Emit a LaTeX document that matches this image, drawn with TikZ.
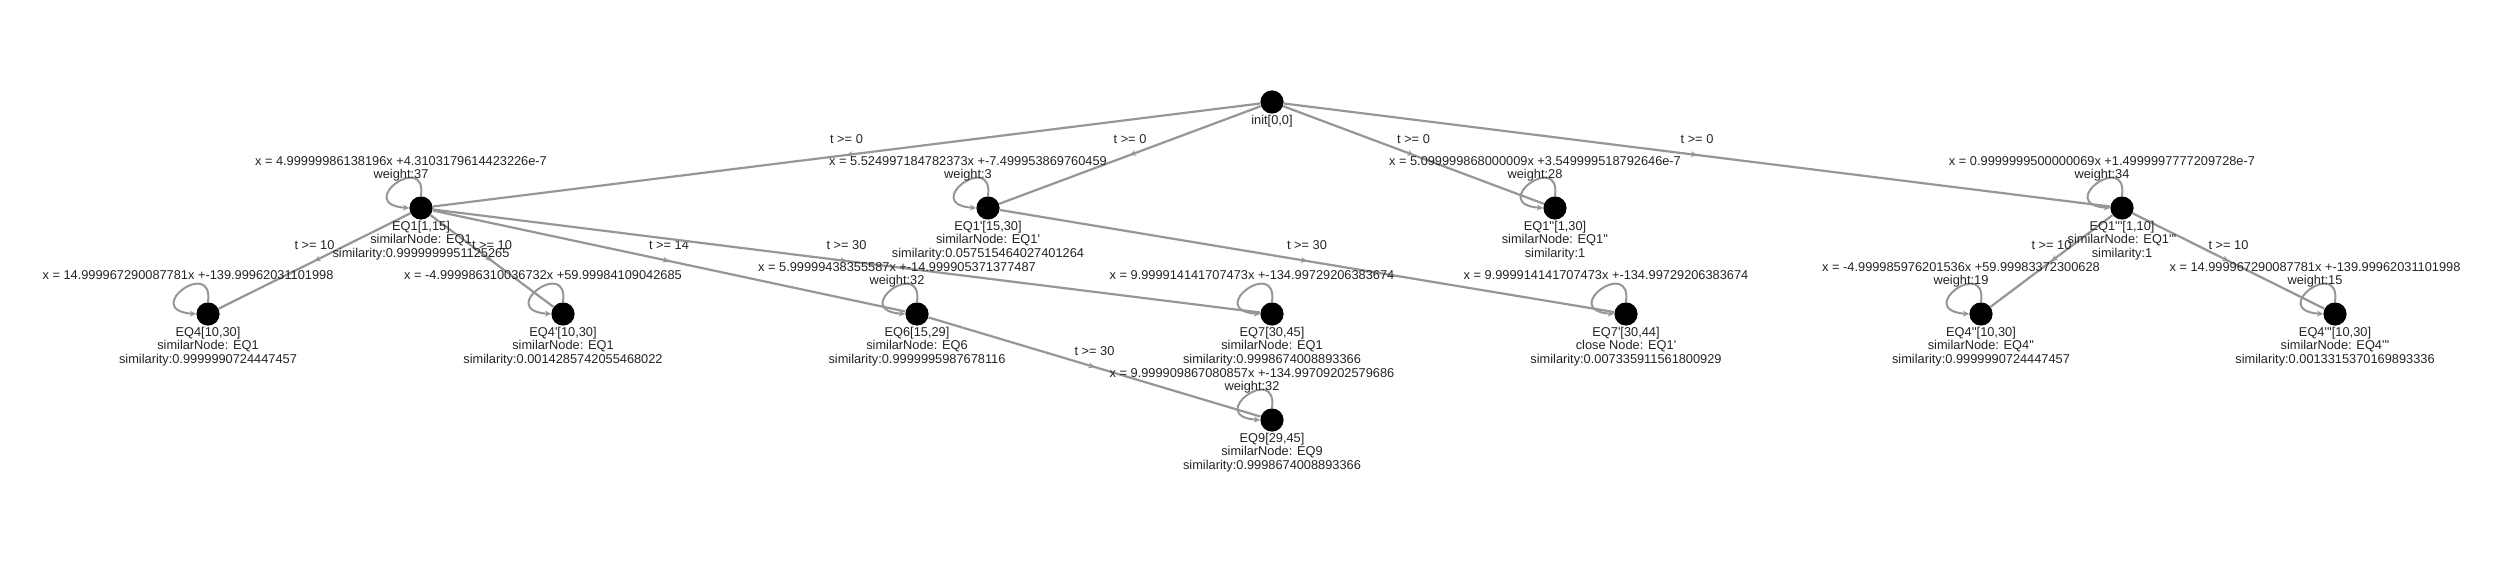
\documentclass[tikz,border=0pt]{standalone}
\usepackage{fontspec}
\setmainfont{Liberation Sans}
\usetikzlibrary{arrows.meta, decorations.markings, calc}

\definecolor{linegray}{RGB}{150,150,150}
\definecolor{txtgray}{RGB}{35,35,35}
\newcommand{\apos}{\textquotesingle}

\begin{document}
\begin{tikzpicture}[x=0.5pt, y=-0.5pt, font=\fontsize{6.4}{6.65}\selectfont,
    state/.style={circle, fill=black, inner sep=0pt, minimum size=11.6pt},
    info/.style={anchor=north, align=center, inner sep=0pt, text=txtgray},
    eqlbl/.style={align=center, inner sep=0pt, text=txtgray},
    trans/.style={draw=linegray, line width=1.1pt, postaction={decorate, decoration={markings,
        mark=at position 0.5 with {\arrow[linegray]{Stealth[length=3pt, width=3pt]}}}}},
    guard/.style={midway, yshift=8pt, inner sep=0pt, text=txtgray},
    selfloop/.style={draw=linegray, line width=1pt, -{Stealth[length=3pt, width=3pt]}}]
    \useasboundingbox (0,0) rectangle (2500,562);
    % 状态
    \node[state] (init) at (1272,102) {};
    \node[state] (eq1) at (421,208) {};
    \node[state] (eq1p) at (988,208) {};
    \node[state] (eq1pp) at (1555,208) {};
    \node[state] (eq1ppp) at (2122,208) {};
    \node[state] (eq4) at (208,314) {};
    \node[state] (eq4p) at (563,314) {};
    \node[state] (eq6) at (917,314) {};
    \node[state] (eq7) at (1272,314) {};
    \node[state] (eq7p) at (1626,314) {};
    \node[state] (eq4pp) at (1981,314) {};
    \node[state] (eq4ppp) at (2335,314) {};
    \node[state] (eq9) at (1272,420) {};
    % 转移
    \draw[trans] (init) -- node[guard] {t >= 0} (eq1);
    \draw[trans] (init) -- node[guard] {t >= 0} (eq1p);
    \draw[trans] (init) -- node[guard] {t >= 0} (eq1pp);
    \draw[trans] (init) -- node[guard] {t >= 0} (eq1ppp);
    \draw[trans] (eq1) -- node[guard] {t >= 10} (eq4);
    \draw[trans] (eq1) -- node[guard] {t >= 10} (eq4p);
    \draw[trans] (eq1) -- node[guard] {t >= 14} (eq6);
    \draw[trans] (eq1) -- node[guard] {t >= 30} (eq7);
    \draw[trans] (eq1p) -- node[guard] {t >= 30} (eq7p);
    \draw[trans] (eq6) -- node[guard] {t >= 30} (eq9);
    \draw[trans] (eq1ppp) -- node[guard] {t >= 10} (eq4pp);
    \draw[trans] (eq1ppp) -- node[guard] {t >= 10} (eq4ppp);
    % 自环
    \draw[selfloop] (eq1.north) .. controls +(6,-46) and +(-56,-4) .. (eq1.west);
    \draw[selfloop] (eq1p.north) .. controls +(6,-46) and +(-56,-4) .. (eq1p.west);
    \draw[selfloop] (eq1pp.north) .. controls +(6,-46) and +(-56,-4) .. (eq1pp.west);
    \draw[selfloop] (eq1ppp.north) .. controls +(6,-46) and +(-56,-4) .. (eq1ppp.west);
    \draw[selfloop] (eq4.north) .. controls +(6,-46) and +(-56,-4) .. (eq4.west);
    \draw[selfloop] (eq4p.north) .. controls +(6,-46) and +(-56,-4) .. (eq4p.west);
    \draw[selfloop] (eq6.north) .. controls +(6,-46) and +(-56,-4) .. (eq6.west);
    \draw[selfloop] (eq7.north) .. controls +(6,-46) and +(-56,-4) .. (eq7.west);
    \draw[selfloop] (eq7p.north) .. controls +(6,-46) and +(-56,-4) .. (eq7p.west);
    \draw[selfloop] (eq4pp.north) .. controls +(6,-46) and +(-56,-4) .. (eq4pp.west);
    \draw[selfloop] (eq4ppp.north) .. controls +(6,-46) and +(-56,-4) .. (eq4ppp.west);
    \draw[selfloop] (eq9.north) .. controls +(6,-46) and +(-56,-4) .. (eq9.west);
    % 自环方程
    \node[eqlbl] (eq1eq) at ($(eq1)+(-20,-39)$) {x = 4.99999986138196x +4.3103179614423226e-7\\weight:37};
    \node[eqlbl] (eq1peq) at ($(eq1p)+(-20,-39)$) {x = 5.524997184782373x +-7.499953869760459\\weight:3};
    \node[eqlbl] (eq1ppeq) at ($(eq1pp)+(-20,-39)$) {x = 5.099999868000009x +3.549999518792646e-7\\weight:28};
    \node[eqlbl] (eq1pppeq) at ($(eq1ppp)+(-20,-39)$) {x = 0.9999999500000069x +1.4999997777209728e-7\\weight:34};
    \node[eqlbl] (eq4eq) at ($(eq4)+(-20,-39)$) {x = 14.999967290087781x +-139.99962031101998};
    \node[eqlbl] (eq4peq) at ($(eq4p)+(-20,-39)$) {x = -4.999986310036732x +59.99984109042685};
    \node[eqlbl] (eq6eq) at ($(eq6)+(-20,-39)$) {x = 5.99999438355587x +-14.999905371377487\\weight:32};
    \node[eqlbl] (eq7eq) at ($(eq7)+(-20,-39)$) {x = 9.999914141707473x +-134.99729206383674};
    \node[eqlbl] (eq7peq) at ($(eq7p)+(-20,-39)$) {x = 9.999914141707473x +-134.99729206383674};
    \node[eqlbl] (eq4ppeq) at ($(eq4pp)+(-20,-39)$) {x = -4.999985976201536x +59.99983372300628\\weight:19};
    \node[eqlbl] (eq4pppeq) at ($(eq4ppp)+(-20,-39)$) {x = 14.999967290087781x +-139.99962031101998\\weight:15};
    \node[eqlbl] (eq9eq) at ($(eq9)+(-20,-39)$) {x = 9.999909867080857x +-134.99709202579686\\weight:32};
    % 状态说明
    \node[info] (initt) at ($(init)+(0,13)$) {init[0,0]};
    \node[info] (eq1t) at ($(eq1)+(0,13)$) {EQ1[1,15]\\similarNode: EQ1\\similarity:0.9999999951125265};
    \node[info] (eq1pt) at ($(eq1p)+(0,13)$) {EQ1\apos[15,30]\\similarNode: EQ1\apos\\similarity:0.057515464027401264};
    \node[info] (eq1ppt) at ($(eq1pp)+(0,13)$) {EQ1\apos\apos[1,30]\\similarNode: EQ1\apos\apos\\similarity:1};
    \node[info] (eq1pppt) at ($(eq1ppp)+(0,13)$) {EQ1\apos\apos\apos[1,10]\\similarNode: EQ1\apos\apos\apos\\similarity:1};
    \node[info] (eq4t) at ($(eq4)+(0,13)$) {EQ4[10,30]\\similarNode: EQ1\\similarity:0.9999990724447457};
    \node[info] (eq4pt) at ($(eq4p)+(0,13)$) {EQ4\apos[10,30]\\similarNode: EQ1\\similarity:0.0014285742055468022};
    \node[info] (eq6t) at ($(eq6)+(0,13)$) {EQ6[15,29]\\similarNode: EQ6\\similarity:0.9999995987678116};
    \node[info] (eq7t) at ($(eq7)+(0,13)$) {EQ7[30,45]\\similarNode: EQ1\\similarity:0.9998674008893366};
    \node[info] (eq7pt) at ($(eq7p)+(0,13)$) {EQ7\apos[30,44]\\close Node: EQ1\apos\\similarity:0.007335911561800929};
    \node[info] (eq4ppt) at ($(eq4pp)+(0,13)$) {EQ4\apos\apos[10,30]\\similarNode: EQ4\apos\apos\\similarity:0.9999990724447457};
    \node[info] (eq4pppt) at ($(eq4ppp)+(0,13)$) {EQ4\apos\apos\apos[10,30]\\similarNode: EQ4\apos\apos\apos\\similarity:0.0013315370169893336};
    \node[info] (eq9t) at ($(eq9)+(0,13)$) {EQ9[29,45]\\similarNode: EQ9\\similarity:0.9998674008893366};
\end{tikzpicture}
\end{document}
